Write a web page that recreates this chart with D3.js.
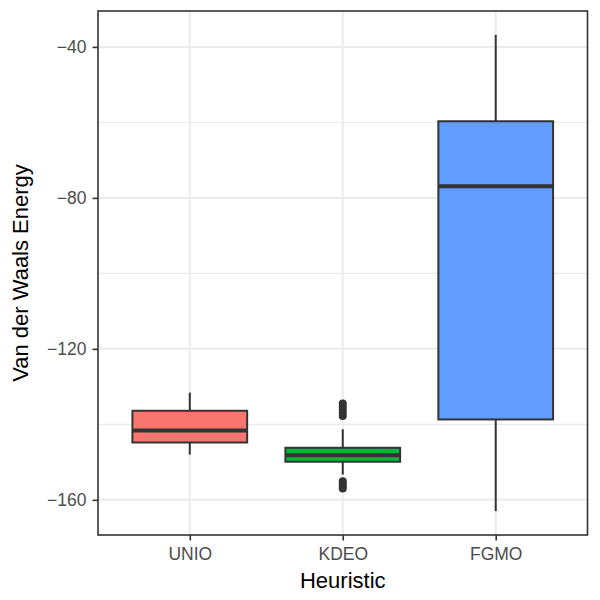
<!DOCTYPE html>
<html><head><meta charset="utf-8">
<script src="https://cdn.jsdelivr.net/npm/d3@7"></script>
<style>body{margin:0;background:#fff}</style>
</head><body>
<script>
const categories = ["UNIO", "KDEO", "FGMO"];
const colors = ["#F8766D", "#00BA38", "#619CFF"];
const whiskerLow = [-148.0, -153.3, -163.0];
const q1 = [-144.8, -149.9, -138.7];
const median = [-141.6, -148.2, -76.9];
const q3 = [-136.4, -146.2, -59.7];
const whiskerHigh = [-131.6, -141.3, -36.8];
const outliers = [[], [-134.5, -135.3, -136.1, -137.0, -137.8, -155.1, -155.7, -156.4, -157.0], []];
const yTicks = [-160, -120, -80, -40];
const yMinor = [-140, -100, -60];
const xTitle = "Heuristic";
const yTitle = "Van der Waals Energy";

const W = 600, H = 600;
const m = {left: 98, right: 12.5, top: 11, bottom: 65};
const FONT = "Liberation Sans, Arial, Helvetica, sans-serif";
const svg = d3.select("body").append("svg").attr("width", W).attr("height", H);
const pw = W - m.left - m.right, ph = H - m.top - m.bottom;
const g = svg.append("g").attr("transform", `translate(${m.left},${m.top})`);

const lo = d3.min(whiskerLow.concat(outliers.flat()));
const hi = d3.max(whiskerHigh.concat(outliers.flat()));
const pad = (hi - lo) * 0.05;
const y = d3.scaleLinear().domain([lo - pad, hi + pad]).range([ph, 0]);
const x = d3.scalePoint().domain(categories).range([0, pw]).padding(0.6);
const unit = x.step();
const bw = unit * 0.75;

// grid
g.selectAll(".minor").data(yMinor).enter().append("line")
  .attr("x1", 0).attr("x2", pw).attr("y1", d => y(d)).attr("y2", d => y(d))
  .attr("stroke", "#EBEBEB").attr("stroke-width", 1.1);
g.selectAll(".major").data(yTicks).enter().append("line")
  .attr("x1", 0).attr("x2", pw).attr("y1", d => y(d)).attr("y2", d => y(d))
  .attr("stroke", "#EBEBEB").attr("stroke-width", 2);
g.selectAll(".vmajor").data(categories).enter().append("line")
  .attr("y1", 0).attr("y2", ph).attr("x1", d => x(d)).attr("x2", d => x(d))
  .attr("stroke", "#EBEBEB").attr("stroke-width", 2);

// boxes
categories.forEach((c, i) => {
  const cx = x(c);
  const bg = g.append("g");
  bg.append("line").attr("x1", cx).attr("x2", cx).attr("y1", y(q3[i])).attr("y2", y(whiskerHigh[i]))
    .attr("stroke", "#333333").attr("stroke-width", 2);
  bg.append("line").attr("x1", cx).attr("x2", cx).attr("y1", y(q1[i])).attr("y2", y(whiskerLow[i]))
    .attr("stroke", "#333333").attr("stroke-width", 2);
  bg.append("rect").attr("x", cx - bw / 2).attr("width", bw)
    .attr("y", y(q3[i])).attr("height", y(q1[i]) - y(q3[i]))
    .attr("fill", colors[i]).attr("stroke", "#333333").attr("stroke-width", 2);
  bg.append("line").attr("x1", cx - bw / 2).attr("x2", cx + bw / 2).attr("y1", y(median[i])).attr("y2", y(median[i]))
    .attr("stroke", "#333333").attr("stroke-width", 4);
  bg.selectAll("circle").data(outliers[i]).enter().append("circle")
    .attr("cx", cx).attr("cy", d => y(d)).attr("r", 4).attr("fill", "#333333");
});

// border
g.append("rect").attr("width", pw).attr("height", ph).attr("fill", "none")
  .attr("stroke", "#333333").attr("stroke-width", 1.6);

// axes
const yAxis = g.append("g").call(d3.axisLeft(y).tickValues(yTicks).tickSize(5.5).tickPadding(6).tickFormat(d => "\u2212" + Math.abs(d)));
yAxis.select(".domain").remove();
yAxis.selectAll("line").attr("stroke", "#333333").attr("stroke-width", 1.6);
yAxis.selectAll("text").attr("fill", "#4D4D4D").style("font-size", "17.5px").style("font-family", FONT);

const xAxis = g.append("g").attr("transform", `translate(0,${ph})`).call(d3.axisBottom(x).tickSize(5.5).tickPadding(7.5));
xAxis.select(".domain").remove();
xAxis.selectAll("line").attr("stroke", "#333333").attr("stroke-width", 1.6);
xAxis.selectAll("text").attr("fill", "#4D4D4D").style("font-size", "17.5px").style("font-family", FONT);

svg.append("text").attr("x", m.left + pw / 2).attr("y", 588).attr("text-anchor", "middle")
  .style("font-size", "22px").style("font-family", FONT).attr("fill", "#000").text(xTitle);
svg.append("text").attr("transform", `translate(28,${m.top + ph / 2}) rotate(-90)`).attr("text-anchor", "middle")
  .style("font-size", "22px").style("font-family", FONT).attr("fill", "#000").text(yTitle);
</script>
</body></html>
